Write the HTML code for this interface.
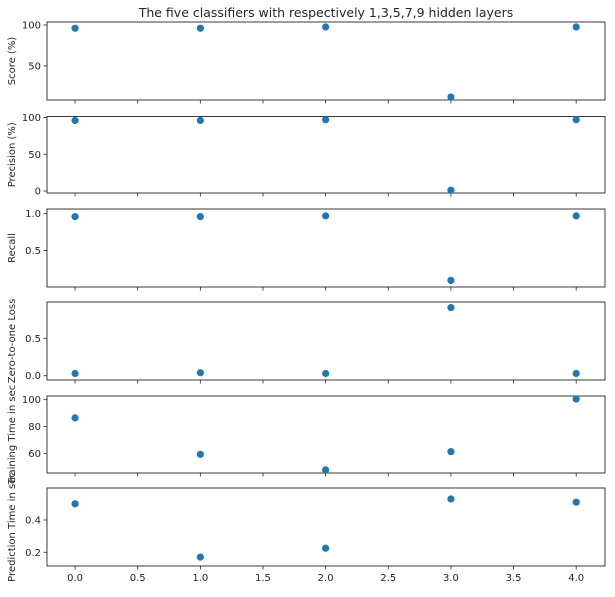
<!DOCTYPE html>
<html><head><meta charset="utf-8"><style>
html,body{margin:0;padding:0;background:#fff;}
svg text{font-family:"DejaVu Sans","Liberation Sans",sans-serif;fill:#262626;}
</style></head><body>
<svg id="chart" width="615" height="592" xmlns="http://www.w3.org/2000/svg">
<text x="326" y="17" font-size="12.5" text-anchor="middle">The five classifiers with respectively 1,3,5,7,9 hidden layers</text>
</svg>
<script>
const categories = [0, 1, 2, 3, 4];
const scoreValues = [96, 96, 97.5, 12, 97.5];
const precisionValues = [96, 96, 97, 1, 97];
const recallValues = [0.96, 0.96, 0.97, 0.09, 0.97];
const lossValues = [0.03, 0.04, 0.03, 0.91, 0.03];
const trainTimeValues = [86.5, 59.5, 48, 61.5, 100.5];
const predTimeValues = [0.50, 0.17, 0.225, 0.53, 0.51];
const xTickLabels = ["0.0", "0.5", "1.0", "1.5", "2.0", "2.5", "3.0", "3.5", "4.0"];
const scoreTicks = ["50", "100"];
const precisionTicks = ["0", "50", "100"];
const recallTicks = ["0.5", "1.0"];
const lossTicks = ["0.0", "0.5"];
const trainTicks = ["60", "80", "100"];
const predTicks = ["0.2", "0.4"];

const svg = document.getElementById('chart');
const NS = 'http://www.w3.org/2000/svg';
const L = 47, R = 605;
const xMin = -0.224, xMax = 4.23;
function xs(v){ return L + (v - xMin) / (xMax - xMin) * (R - L); }
function mk(tag, attrs){ const e = document.createElementNS(NS, tag); for (const k in attrs) e.setAttribute(k, attrs[k]); svg.appendChild(e); return e; }

const panels = [
 {name:'score', label:'Score (%)', top:22, bot:100, ymin:8.4, ymax:103.6, vals:scoreValues, ticks:scoreTicks},
 {name:'precision', label:'Precision (%)', top:116.5, bot:193, ymin:-2.7, ymax:101.4, vals:precisionValues, ticks:precisionTicks},
 {name:'recall', label:'Recall', top:209, bot:287, ymin:0.0, ymax:1.064, vals:recallValues, ticks:recallTicks},
 {name:'loss', label:'Zero-to-one Loss', top:302, bot:380, ymin:-0.057, ymax:0.985, vals:lossValues, ticks:lossTicks},
 {name:'training-time', label:'Training Time in sec', top:396, bot:473, ymin:45.7, ymax:102.7, vals:trainTimeValues, ticks:trainTicks},
 {name:'prediction-time', label:'Prediction Time in sec', top:488, bot:566, ymin:0.115, ymax:0.598, vals:predTimeValues, ticks:predTicks}
];

panels.forEach((p, pi) => {
  const ys = v => p.bot - (v - p.ymin) / (p.ymax - p.ymin) * (p.bot - p.top);
  const frame = mk('rect', {x:L, y:p.top, width:R-L, height:p.bot-p.top, fill:'none', stroke:'#262626', 'stroke-width':0.9});
  
  
  p.ticks.forEach(t => {
    const y = ys(parseFloat(t));
    const tl = mk('line', {x1:L-3.5, x2:L, y1:y, y2:y, stroke:'#262626', 'stroke-width':0.8});
    
    
    const tx = mk('text', {x:L-6, y:y+3.5, 'font-size':10, 'text-anchor':'end'});
    tx.textContent = t;
    
    
  });
  xTickLabels.forEach(t => {
    const x = xs(parseFloat(t));
    const tl = mk('line', {x1:x, x2:x, y1:p.bot, y2:p.bot+3.5, stroke:'#262626', 'stroke-width':0.8});
    
    
    if (pi === panels.length - 1) {
      const tx = mk('text', {x:x, y:p.bot+15, 'font-size':10, 'text-anchor':'middle'});
      tx.textContent = t;
      
      
    }
  });
  const cy = (p.top + p.bot) / 2;
  const lab = mk('text', {x:0, y:0, 'font-size':10, 'text-anchor':'middle', transform:'translate(15,' + cy + ') rotate(-90)'});
  lab.textContent = p.label;
  
  
  categories.forEach((c, i) => {
    const pt = mk('circle', {cx:xs(c), cy:ys(p.vals[i]), r:3.6, fill:'#1f77b4'});
    
    
  });
});
</script>
</body></html>
